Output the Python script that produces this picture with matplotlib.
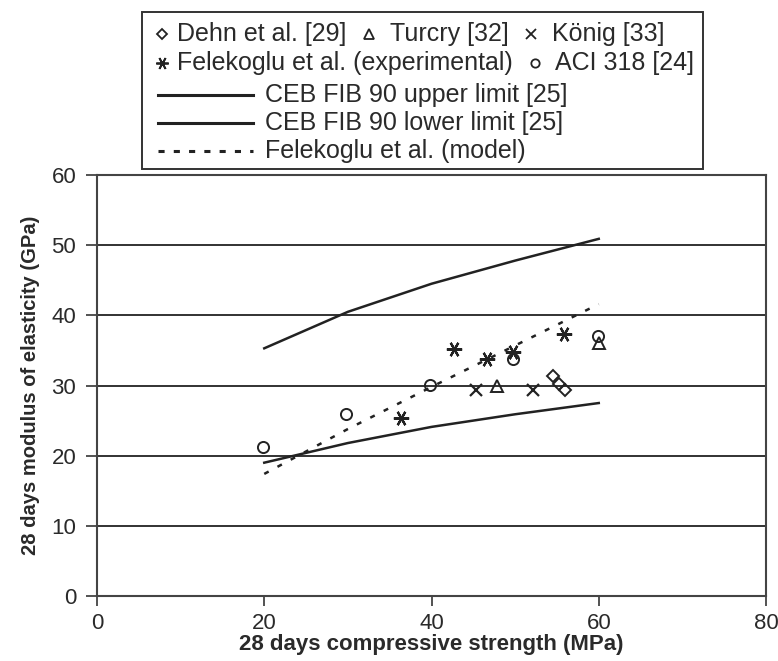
import matplotlib
matplotlib.use("Agg")
import matplotlib.pyplot as plt
from matplotlib.patches import Rectangle

plt.rcParams['font.family'] = ['Liberation Sans', 'DejaVu Sans']

# ---- data ----
dehn_x = [54.5, 55.2, 56.0]
dehn_y = [31.4, 30.2, 29.3]
turcry_x = [47.8, 60.0]
turcry_y = [29.9, 36.0]
konig_x = [45.3, 52.1]
konig_y = [29.4, 29.4]
fel_exp_x = [36.4, 42.7, 46.6, 49.7, 55.8]
fel_exp_y = [25.4, 35.2, 33.8, 34.8, 37.4]
aci_x = [19.8, 29.8, 39.8, 49.7, 59.9]
aci_y = [21.2, 26.0, 30.1, 33.8, 37.0]
ceb_x = [20, 30, 40, 50, 60]
ceb_upper = [35.3, 40.5, 44.5, 47.8, 50.9]
ceb_lower = [19.0, 21.8, 24.1, 25.9, 27.5]
model_x = [20, 30, 40, 50, 60]
model_y = [17.4, 23.8, 29.8, 35.7, 41.6]

x_ticks = [0, 20, 40, 60, 80]
y_ticks = [0, 10, 20, 30, 40, 50, 60]

legend_row1 = [("D", "Dehn et al. [29]"), ("^", "Turcry [32]"), ("x", "König [33]")]
legend_row2 = [("ast", "Felekoglu et al. (experimental)"), ("o", "ACI 318 [24]")]
legend_lines = ["CEB FIB 90 upper limit [25]", "CEB FIB 90 lower limit [25]",
                "Felekoglu et al. (model)"]

W, H = 778, 661
fig = plt.figure(figsize=(W / 100, H / 100), dpi=100)
fig.patch.set_facecolor("white")

ax = fig.add_axes([97 / W, 1 - 596 / H, (766 - 97) / W, (596 - 175) / H])
txtc = "#2a2a2a"
lc = "#222222"
AST = (6, 2, 90)

ax.set_xlim(0, 80)
ax.set_ylim(0, 60)
ax.set_xticks(x_ticks)
ax.set_yticks(y_ticks)
for y in y_ticks[1:-1]:
    ax.axhline(y, color=lc, lw=1.3, zorder=1)

ax.plot(ceb_x, ceb_upper, color=lc, lw=1.8, zorder=3)
ax.plot(ceb_x, ceb_lower, color=lc, lw=1.8, zorder=3)
ax.plot(model_x, model_y, color=lc, lw=1.8, linestyle=(0, (2, 4)), zorder=3)

mk = dict(linestyle="none", markerfacecolor="none", markeredgecolor=lc, zorder=4)
ax.plot(dehn_x, dehn_y, marker="D", markersize=6.5, markeredgewidth=1.4, **mk)
ax.plot(turcry_x, turcry_y, marker="^", markersize=8.5, markeredgewidth=1.4, **mk)
ax.plot(konig_x, konig_y, marker="x", markersize=8.5, markeredgewidth=1.6, **mk)
ax.plot(fel_exp_x, fel_exp_y, marker=AST, markersize=11, markeredgewidth=1.6, **mk)
ax.plot(aci_x, aci_y, marker="o", markersize=8, markeredgewidth=1.4, **mk)

for s in ax.spines.values():
    s.set_color("#444444")
    s.set_linewidth(1.5)
ax.tick_params(axis="y", direction="out", length=8, width=1.3, color="#444444",
               labelsize=16, labelcolor=txtc, pad=7)
ax.tick_params(axis="x", direction="out", length=7, width=1.3, color="#444444",
               labelsize=16, labelcolor=txtc, pad=5.5)

ax.set_xlabel("28 days compressive strength (MPa)", fontsize=16, fontweight="bold",
              color=txtc, labelpad=0)
ax.set_ylabel("28 days modulus of elasticity (GPa)", fontsize=14.5, fontweight="bold",
              color=txtc, labelpad=8)

# ---- legend (drawn in pixel coordinates) ----
lax = fig.add_axes([0, 0, 1, 1])
lax.set_xlim(0, W)
lax.set_ylim(H, 0)
lax.axis("off")
lax.add_patch(Rectangle((142, 12), 703 - 142, 169 - 12, fill=False,
                        edgecolor="#333333", lw=1.4))
fs = 18
r1 = 34
pos1 = [(162, 177), (369, 390), (531, 552)]
for (m, lab), (mx, tx) in zip(legend_row1, pos1):
    ms = {"D": 5.5, "^": 7, "x": 7}[m]
    lax.plot([mx], [r1], marker=m, markersize=ms, markeredgewidth=1.3, **mk)
    lax.text(tx, r1, lab, fontsize=fs, color=txtc, va="center", ha="left")
r2 = 63
pos2 = [(162, 177), (535, 555)]
for (m, lab), (mx, tx) in zip(legend_row2, pos2):
    mm = AST if m == "ast" else m
    ms = 9 if m == "ast" else 6
    lax.plot([mx], [r2], marker=mm, markersize=ms, markeredgewidth=1.3, **mk)
    lax.text(tx, r2, lab, fontsize=fs, color=txtc, va="center", ha="left")
rows = [95, 123, 151]
styles = ["-", "-", (0, (2, 3))]
for lab, ry, st in zip(legend_lines, rows, styles):
    lax.plot([158, 253], [ry, ry], color=lc, lw=2.2, linestyle=st)
    lax.text(265, ry, lab, fontsize=fs, color=txtc, va="center", ha="left")

fig.savefig("out.png", dpi=100)
